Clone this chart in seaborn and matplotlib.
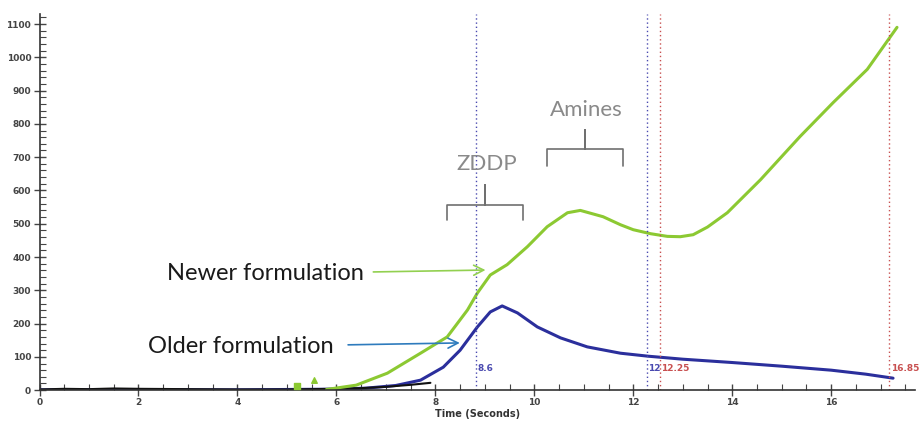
import matplotlib

matplotlib.use("Agg")

import matplotlib.pyplot as plt
import pandas as pd
import seaborn as sns
from matplotlib.ticker import MultipleLocator

# signal traces (time in seconds)
newer_time = [5.8, 6.4, 7.03, 7.7, 8.24, 8.65, 8.85, 9.11, 9.45, 9.86, 10.26, 10.67,
              10.93, 11.39, 11.74, 12.0, 12.35, 12.69, 12.95, 13.21, 13.5, 13.9, 14.57,
              15.37, 16.04, 16.73, 17.33]
newer_signal = [2, 15, 51, 111, 160, 241, 292, 346, 377, 431, 491, 533,
                540, 521, 497, 482, 470, 462, 461, 467, 490, 533, 632,
                762, 864, 964, 1090]

older_time = [0, 1, 2, 3, 4, 5, 6, 6.6, 7.2, 7.7, 8.16, 8.5, 8.85, 9.11, 9.35, 9.66,
              10.06, 10.53, 11.07, 11.74, 12.3, 13.0, 14.0, 15.0, 16.0, 16.7, 17.25]
older_signal = [1, 1, 1, 1, 1, 2, 3, 6, 14, 30, 69, 120, 190, 235, 253, 232,
                190, 157, 130, 111, 102, 93, 83, 72, 60, 48, 36]

baseline_time = [0, 0.5, 1, 1.5, 2, 3, 4, 5, 6, 6.5, 7, 7.5, 7.9]
baseline_signal = [2, 4, 3, 5, 4, 3, 2, 2, 4, 6, 10, 16, 22]

blip_time = [5.21, 5.54]
blip_signal = [12, 30]
blip_markers = ["s", "^"]

# cursor markers
blue_cursors = [8.83, 12.28]
blue_cursor_labels = ["8.6", "12"]
red_cursors = [12.53, 17.17]
red_cursor_labels = ["12.25", "16.85"]

GREEN = "#8cc932"
NAVY = "#2b2f9c"

sns.set_style("ticks")
plt.rcParams["font.family"] = ["Lato", "DejaVu Sans"]

fig = plt.figure(figsize=(9.19, 4.25), dpi=100)
ax = fig.add_axes([0.043, 0.082, 0.953, 0.885])

newer_df = pd.DataFrame({"time": newer_time, "signal": newer_signal})
older_df = pd.DataFrame({"time": older_time, "signal": older_signal})
base_df = pd.DataFrame({"time": baseline_time, "signal": baseline_signal})

sns.lineplot(data=older_df, x="time", y="signal", color=NAVY, lw=2.2, ax=ax, sort=False)
sns.lineplot(data=base_df, x="time", y="signal", color="#111111", lw=1.5, ax=ax, sort=False)
sns.lineplot(data=newer_df, x="time", y="signal", color=GREEN, lw=2.2, ax=ax, sort=False)
for bx, by, bm in zip(blip_time, blip_signal, blip_markers):
    ax.scatter([bx], [by], color=GREEN, marker=bm, s=16, zorder=3)

for xpos, label in zip(blue_cursors, blue_cursor_labels):
    ax.axvline(xpos, color="#4a4ab0", ls=(0, (1, 2)), lw=1.0)
    ax.text(xpos + 0.02, 66, label, color="#4a4ab0", fontsize=6.5,
            fontweight="bold", ha="left", va="center", family="DejaVu Sans")
for xpos, label in zip(red_cursors, red_cursor_labels):
    ax.axvline(xpos, color="#c85050", ls=(0, (1, 2)), lw=1.0)
    ax.text(xpos + 0.04, 66, label, color="#c85050", fontsize=6.5,
            fontweight="bold", ha="left", va="center", family="DejaVu Sans")

# callouts
ax.text(6.55, 349, "Newer formulation", fontsize=17, color="#1a1a1a",
        ha="right", va="center")
ax.annotate("", xy=(9.07, 361), xytext=(6.69, 355),
            arrowprops=dict(arrowstyle="->", color="#92d050", lw=1.2,
                            mutation_scale=18))
ax.text(5.95, 130, "Older formulation", fontsize=17, color="#1a1a1a",
        ha="right", va="center")
ax.annotate("", xy=(8.55, 142), xytext=(6.18, 136),
            arrowprops=dict(arrowstyle="->", color="#2e7bbd", lw=1.2,
                            mutation_scale=18))


def draw_brace(x0, x1, y_end, y_bar, y_tip):
    mid = (x0 + x1) / 2
    ax.plot([x0, x0, mid, mid, mid, x1, x1],
            [y_end, y_bar, y_bar, y_tip, y_bar, y_bar, y_end],
            color="#707070", lw=1.2, solid_joinstyle="round")


draw_brace(8.24, 9.78, 512, 557, 617)
ax.text(9.03, 678, "ZDDP", fontsize=16, color="#8a8a8a", ha="center", va="center")
draw_brace(10.26, 11.8, 672, 723, 783)
ax.text(11.05, 843, "Amines", fontsize=16, color="#8a8a8a", ha="center", va="center")

ax.set_xlim(0, 17.7)
ax.set_ylim(0, 1130)
ax.xaxis.set_major_locator(MultipleLocator(2))
ax.xaxis.set_minor_locator(MultipleLocator(0.5))
ax.yaxis.set_major_locator(MultipleLocator(100))
ax.yaxis.set_minor_locator(MultipleLocator(20))
ax.tick_params(which="major", direction="inout", length=8, width=1.0,
               labelsize=6.5, colors="#444444", pad=2)
ax.tick_params(which="minor", direction="in", length=4, width=0.8, colors="#444444")
for lbl in ax.get_xticklabels() + ax.get_yticklabels():
    lbl.set_fontweight("bold")
    lbl.set_family("DejaVu Sans")
ax.set_xlabel("Time (Seconds)", fontsize=7, fontweight="bold", family="DejaVu Sans",
              color="#333333", labelpad=1)
ax.set_ylabel("")
for side in ["top", "right"]:
    ax.spines[side].set_visible(False)
for side in ["left", "bottom"]:
    ax.spines[side].set_color("#333333")
    ax.spines[side].set_linewidth(1.2)

fig.savefig("out.png", dpi=100)
